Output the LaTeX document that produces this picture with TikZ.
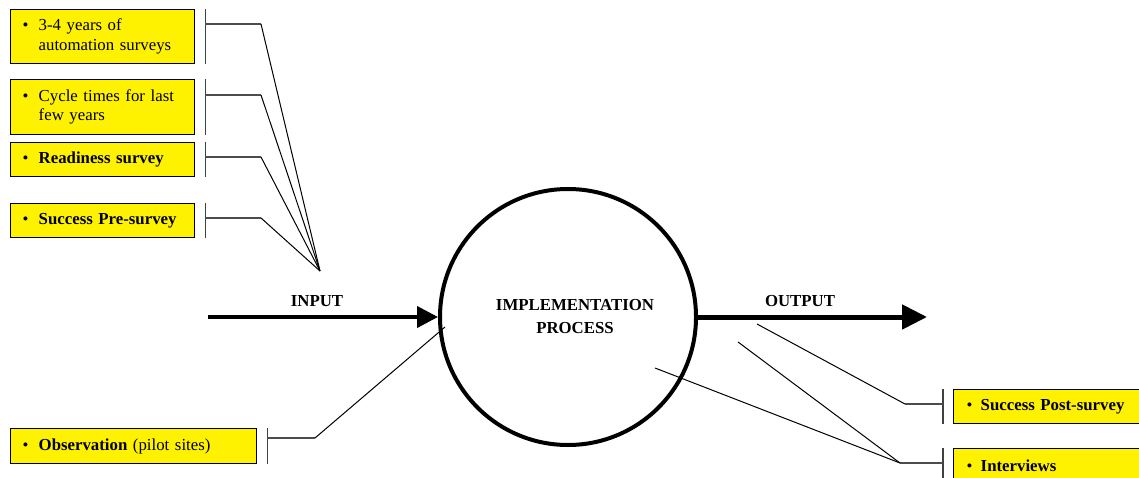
\documentclass[tikz,border=0pt]{standalone}
\usepackage{fontspec}
\setmainfont{Liberation Serif}
\usetikzlibrary{arrows.meta}
\tikzset{
  itembox/.style={draw=black, line width=1.4pt, fill=yellow, anchor=north west,
    inner xsep=12pt, inner ysep=0pt, align=left, text width=#1,
    font=\fontsize{16.8}{19.5}\selectfont},
  bracket/.style={draw=black!75, line width=1.6pt},
  stub/.style={draw=black!70, line width=1.6pt},
  feed/.style={draw=black, line width=1pt},
  bigarrow/.style={draw=black, line width=#1},
  flowlabel/.style={font=\fontsize{16.8}{19}\selectfont\bfseries, inner sep=0pt},
  proc/.style={circle, draw=black, line width=4pt, minimum size=256pt, inner sep=0pt},
}
\newcommand{\bul}{\makebox[16pt][l]{\textbullet}}
\begin{document}
\begin{tikzpicture}[x=1pt,y=-1pt]
\useasboundingbox (0,0) rectangle (1139,478);

% left item boxes
\node[itembox=160pt, minimum height=54pt] (b1) at (10,9)
  {\begin{tabular}{@{}p{16pt}@{}l@{}}\textbullet & 3-4 years of\\ & automation surveys\end{tabular}};
\node[itembox=160pt, minimum height=55pt] (b2) at (10,79)
  {\begin{tabular}{@{}p{16pt}@{}l@{}}\textbullet & Cycle times for last\\ & few years\end{tabular}};
\node[itembox=160pt, minimum height=34pt] (b3) at (10,142) {\bul\textbf{Readiness survey}};
\node[itembox=160pt, minimum height=34pt] (b4) at (10,203) {\bul\textbf{Success Pre-survey}};
\node[itembox=222pt, minimum height=35pt] (b5) at (10,428) {\bul\textbf{Observation} (pilot sites)};

% right item boxes
\node[itembox=190pt, minimum height=34pt, inner xsep=13pt] (r1) at (953,389) {\makebox[14pt][l]{\textbullet}\textbf{Success Post-survey}};
\node[itembox=190pt, minimum height=34pt, inner xsep=13pt] (r2) at (953,448) {\makebox[14pt][l]{\textbullet}\textbf{Interviews}};

% process circle
\node[proc] (pc) at (568,317) {};
\node[align=center, inner sep=0pt, font=\fontsize{16.8}{23}\selectfont\bfseries] (pt) at (575,317) {IMPLEMENTATION\\PROCESS};

% input / output
\coordinate (inStart) at (208,317);
\coordinate (outEnd) at (927,317);
\draw[bigarrow=4pt, -{Triangle[length=21pt,width=21pt]}] (inStart) -- (pc.west);
\draw[bigarrow=5pt, -{Triangle[length=25pt,width=24pt]}] (pc.east) -- (outEnd);
\node[flowlabel] (inl) at (317,301) {INPUT};
\node[flowlabel] (outl) at (800,301) {OUTPUT};

% convergence point of the input feeds
\coordinate (conv) at (320,271);

% brackets for left boxes
\foreach \b in {b1,b2,b3,b4,b5} {
  \draw[bracket] ([xshift=10pt]\b.north east) -- ([xshift=10pt]\b.south east);
}
\foreach \b/\y in {b1/24,b2/95,b3/157,b4/218} {
  \coordinate (\b k) at (261,\y);
  \draw[stub] ([xshift=10pt]\b.east |- 0,\y) -- (\b k);
  \draw[feed] (\b k) -- (conv);
}
% observation feed
\coordinate (b5k) at (315,438);
\coordinate (b5e) at (445,327);
\draw[stub] ([xshift=10pt]b5.east |- 0,438) -- (b5k);
\draw[feed] (b5k) -- (b5e);

% brackets for right boxes
\foreach \b in {r1,r2} {
  \draw[bracket] ([xshift=-10pt]\b.north west) -- ([xshift=-10pt]\b.south west);
}
\coordinate (r1k) at (905,404);
\coordinate (r2k) at (900,463);
\coordinate (o1) at (757,324);
\coordinate (o2) at (738,342);
\coordinate (o3) at (655,368);
\draw[stub] ([xshift=-10pt]r1.west |- 0,404) -- (r1k);
\draw[stub] ([xshift=-10pt]r2.west |- 0,463) -- (r2k);
\draw[feed] (r1k) -- (o1);
\draw[feed] (r2k) -- (o2);
\draw[feed] (r2k) -- (o3);
\end{tikzpicture}
\end{document}
